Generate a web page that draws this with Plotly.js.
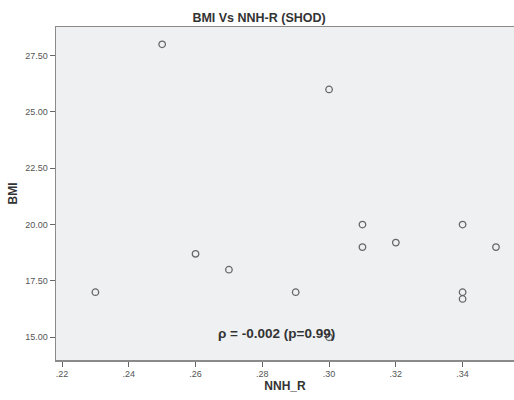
<!DOCTYPE html>
<html><head><meta charset="utf-8">
<script src="https://cdn.plot.ly/plotly-3.0.1.min.js"></script>
<style>html,body{margin:0;padding:0;background:#fff;}#chart{width:514px;height:400px;}</style>
</head><body><div id="chart"></div>
<script>
const nnhR = [0.23, 0.25, 0.26, 0.27, 0.29, 0.30, 0.30, 0.31, 0.31, 0.32, 0.34, 0.34, 0.34, 0.35];
const bmi  = [17.0, 28.0, 18.7, 18.0, 17.0, 26.0, 15.0, 20.0, 19.0, 19.2, 20.0, 17.0, 16.7, 19.0];
const xTickVals = [0.22, 0.24, 0.26, 0.28, 0.30, 0.32, 0.34];
const xTickText = ['.22', '.24', '.26', '.28', '.30', '.32', '.34'];
const yTickVals = [15, 17.5, 20, 22.5, 25, 27.5];
const yTickText = ['15.00', '17.50', '20.00', '22.50', '25.00', '27.50'];

const trace = {
  x: nnhR, y: bmi, type: 'scatter', mode: 'markers',
  marker: {symbol: 'circle-open', size: 6.5, color: '#666', line: {width: 1.3, color: '#666'}},
  hoverinfo: 'none'
};
const layout = {
  width: 514, height: 400,
  margin: {l: 56, r: 0, t: 27, b: 40},
  paper_bgcolor: '#ffffff', plot_bgcolor: '#eff0f2',
  showlegend: false,
  font: {family: 'Liberation Sans, Arial, sans-serif', color: '#444'},
  title: {text: '<b>BMI Vs NNH-R (SHOD)</b>', x: 0.504, xanchor: 'center', y: 0.957, yanchor: 'middle',
          font: {size: 12.5, color: '#333'}},
  xaxis: {range: [0.2182, 0.3554], tickvals: xTickVals, ticktext: xTickText,
          showgrid: false, zeroline: false, showline: true, linecolor: '#8a8a8a', linewidth: 1.5,
          mirror: true, ticks: 'outside', ticklen: 5, tickcolor: '#666', tickwidth: 1,
          tickfont: {size: 9, color: '#555'},
          title: {text: '<b>NNH_R</b>', font: {size: 12, color: '#333'}, standoff: 1}},
  yaxis: {range: [13.99, 28.77], tickvals: yTickVals, ticktext: yTickText,
          showgrid: false, zeroline: false, showline: true, linecolor: '#8a8a8a', linewidth: 1.5,
          ticks: 'outside', ticklen: 5, tickcolor: '#666', tickwidth: 1,
          tickfont: {size: 9, color: '#555'},
          title: {text: '<b>BMI</b>', font: {size: 12, color: '#333'}, standoff: 5}},
  annotations: [{
    text: '<b>ρ = -0.002 (p=0.99)</b>', xref: 'x', yref: 'y', x: 0.2843, y: 15.15,
    showarrow: false, xanchor: 'center', yanchor: 'middle', font: {size: 13.5, color: '#333'}
  }]
};
Plotly.newPlot('chart', [trace], layout, {staticPlot: true, displayModeBar: false});
</script></body></html>
